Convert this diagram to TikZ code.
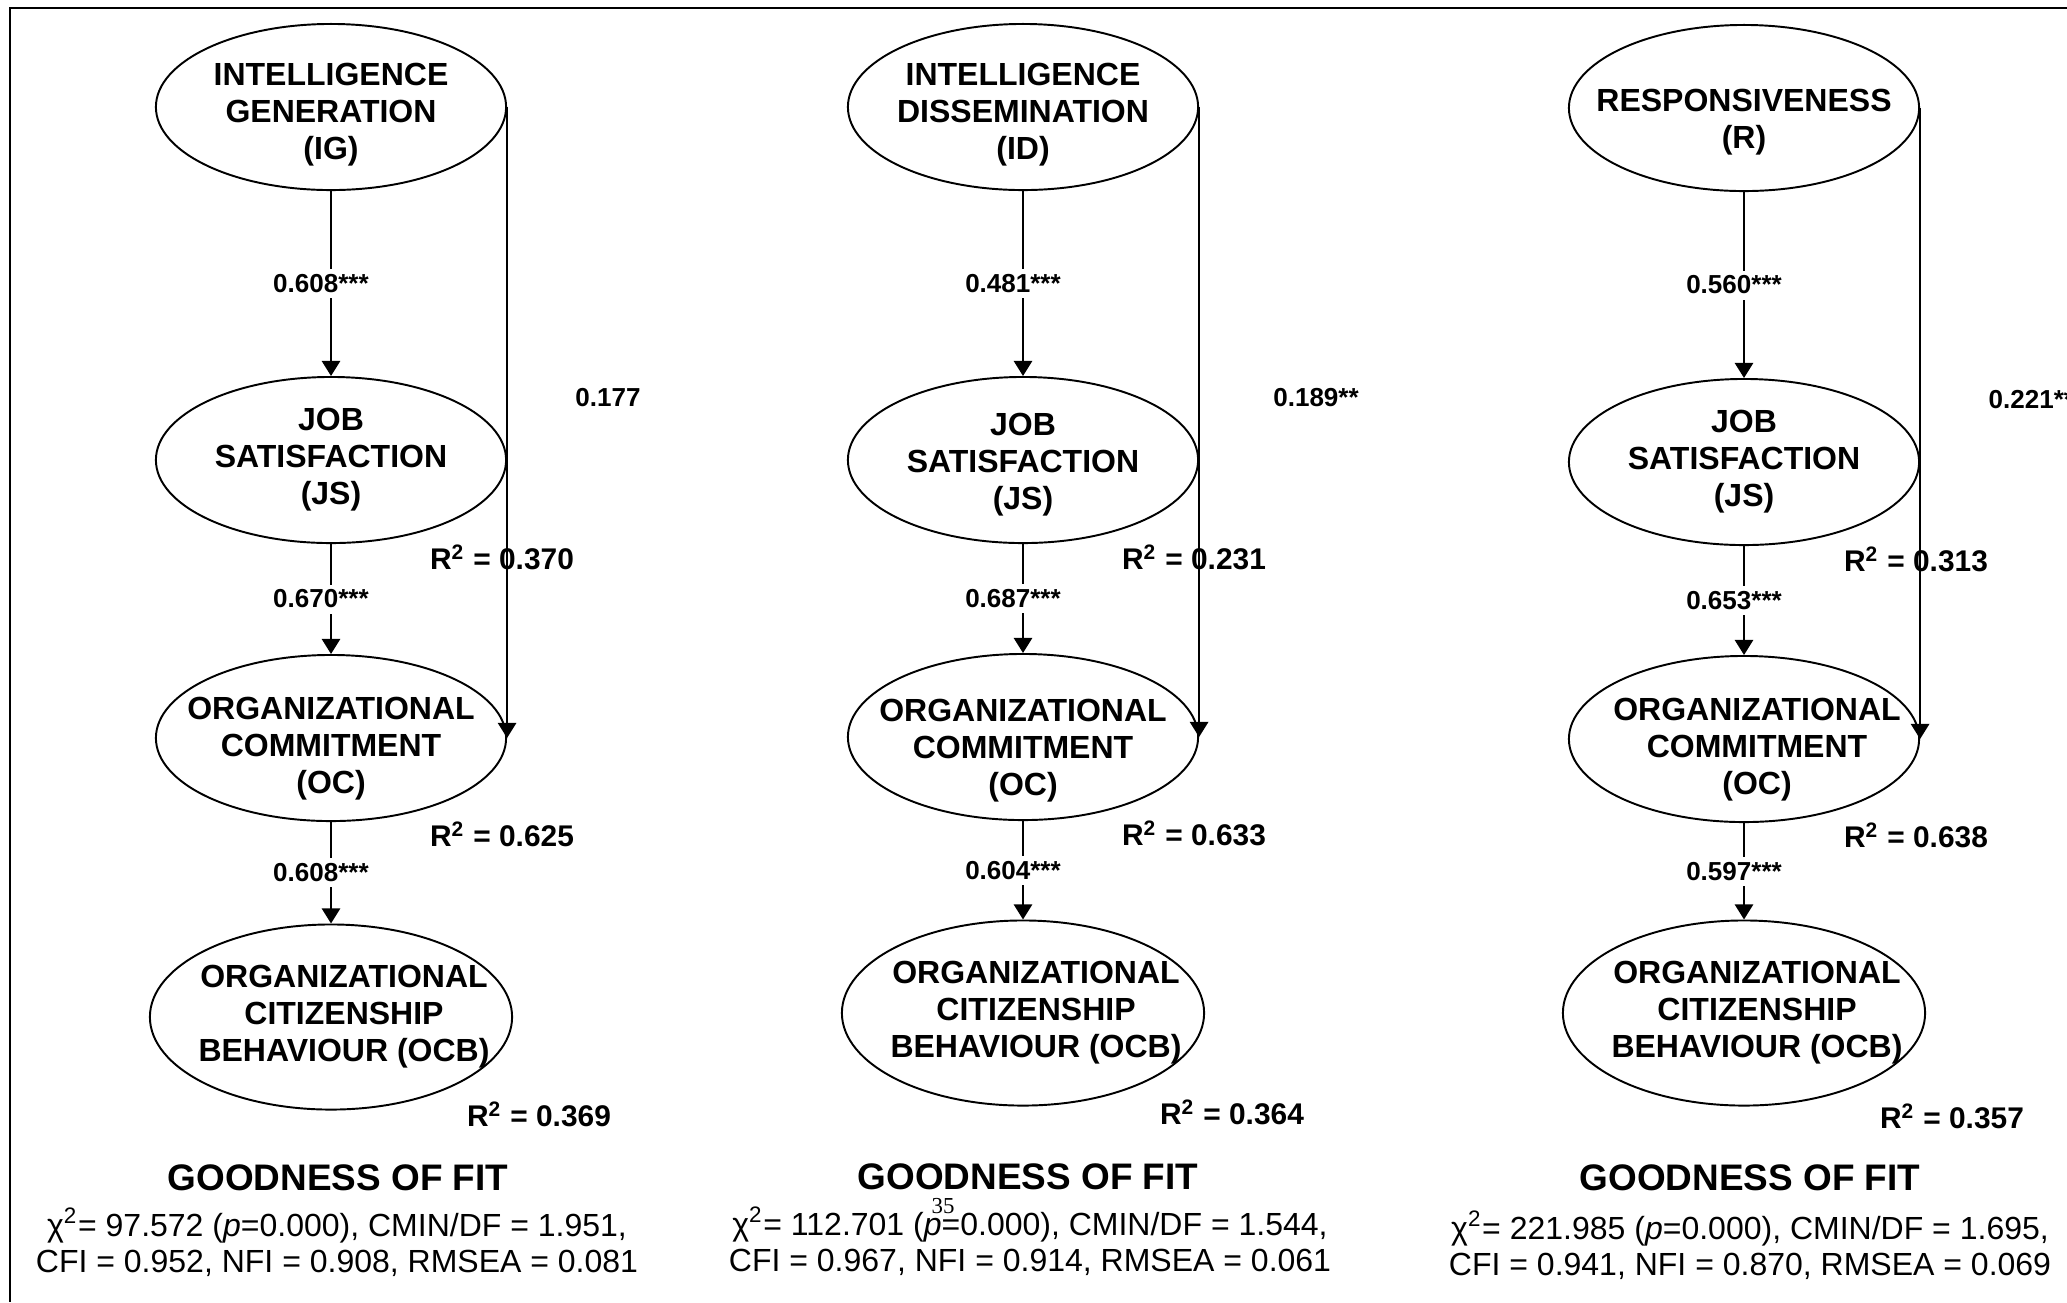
\documentclass[tikz,border=0pt]{standalone}
\usepackage{fontspec}
\setmainfont{Liberation Sans}
\newfontfamily\folioserif{Liberation Serif}
\usetikzlibrary{shapes.geometric,arrows.meta}
% lower a block of ellipse text, or push a line to the right
\newcommand{\droptext}[1]{\rule{0pt}{\dimexpr0.75em+#1\relax}}
\newcommand{\pushline}{\hspace*{0.26cm}}

\begin{document}
\begin{tikzpicture}[x=0.01cm,y=-0.01cm,
    >={Triangle[length=4.3pt,width=5.2pt]},
    construct/.style={ellipse,draw,line width=0.55pt,minimum width=3.5cm,
      minimum height=1.66cm,inner xsep=-0.6cm,inner ysep=-0.15cm,align=center,
      font=\bfseries\fontsize{9.1}{10.5}\selectfont},
    ocbconstruct/.style={construct,minimum width=3.62cm,minimum height=1.85cm},
    pathval/.style={inner sep=0pt,font=\bfseries\fontsize{7.4}{8}\selectfont},
    coef/.style={pathval,fill=white,inner sep=1.5pt,xshift=-0.1cm},
    rsq/.style={inner sep=0pt,font=\bfseries\fontsize{8.5}{10}\selectfont},
    fithead/.style={inner sep=0pt,font=\bfseries\fontsize{10.5}{12}\selectfont},
    fitstats/.style={inner sep=0pt,align=center,font=\fontsize{9.1}{10.2}\selectfont},
    folio/.style={inner sep=0pt,font=\folioserif\fontsize{6.5}{7}\selectfont}]
  \useasboundingbox (0,0) rectangle (2067,1302);
  \draw[line width=0.7pt] (2067,8) -- (10,8) -- (10,1302);

  % intelligence generation model
  \draw
    (331,107) node[construct] (ig) {\droptext{0.13cm}INTELLIGENCE\\GENERATION\\(IG)}
    (331,460) node[construct] (js1) {JOB\\SATISFACTION\\(JS)}
    (331,738) node[construct] (oc1) {\droptext{0.2cm}ORGANIZATIONAL\\COMMITMENT\\(OC)}
    (331,1017) node[ocbconstruct] (ocb1) {\pushline ORGANIZATIONAL\\\pushline CITIZENSHIP\\\pushline BEHAVIOUR (OCB)};
  \begin{scope}[->,line width=0.6pt]
    \draw (ig) to node[coef] {0.608***} (js1);
    \draw (js1) to node[coef] {0.670***} (oc1);
    \draw (oc1) to node[coef] {0.608***} (ocb1);
    \draw (ig.east) to (oc1.east);
  \end{scope}
  \node[pathval] (igoc) at (608,398) {0.177};
  \node[rsq] (r2js1) at (502,557) {R\textsuperscript{2} = 0.370};
  \node[rsq] (r2oc1) at (502,834) {R\textsuperscript{2} = 0.625};
  \node[rsq] (r2ocb1) at (539,1114) {R\textsuperscript{2} = 0.369};
  \node[fithead] (gof1) at (338,1178) {GOODNESS OF FIT};
  \node[fitstats] (fit1) at (337,1242) {χ\textsuperscript{2}= 97.572 (\textit{p}=0.000), CMIN/DF = 1.951,\\CFI = 0.952, NFI = 0.908, RMSEA = 0.081};

  % intelligence dissemination model
  \draw
    (1023,107) node[construct] (id) {\droptext{0.14cm}INTELLIGENCE\\DISSEMINATION\\(ID)}
    (1023,460) node[construct] (js2) {\droptext{0.08cm}JOB\\SATISFACTION\\(JS)}
    (1023,737) node[construct] (oc2) {\droptext{0.25cm}ORGANIZATIONAL\\COMMITMENT\\(OC)}
    (1023,1013) node[ocbconstruct] (ocb2) {\pushline ORGANIZATIONAL\\\pushline CITIZENSHIP\\\pushline BEHAVIOUR (OCB)};
  \begin{scope}[->,line width=0.6pt]
    \draw (id) to node[coef] {0.481***} (js2);
    \draw (js2) to node[coef] {0.687***} (oc2);
    \draw (oc2) to node[coef] {0.604***} (ocb2);
    \draw (id.east) to (oc2.east);
  \end{scope}
  \node[pathval] (idoc) at (1316,398) {0.189**};
  \node[rsq] (r2js2) at (1194,557) {R\textsuperscript{2} = 0.231};
  \node[rsq] (r2oc2) at (1194,833) {R\textsuperscript{2} = 0.633};
  \node[rsq] (r2ocb2) at (1232,1112) {R\textsuperscript{2} = 0.364};
  \node[fithead] (gof2) at (1028,1177) {GOODNESS OF FIT};
  \node[fitstats] (fit2) at (1030,1241) {χ\textsuperscript{2}= 112.701 (\textit{p}=0.000), CMIN/DF = 1.544,\\CFI = 0.967, NFI = 0.914, RMSEA = 0.061};
  \node[folio] (folio) at (943,1206) {35};

  % responsiveness model
  \draw
    (1744,108) node[construct] (r) {\droptext{0.26cm}RESPONSIVENESS\\(R)}
    (1744,462) node[construct] (js3) {JOB\\SATISFACTION\\(JS)}
    (1744,739) node[construct] (oc3) {\droptext{0.2cm}\pushline ORGANIZATIONAL\\\pushline COMMITMENT\\\pushline (OC)}
    (1744,1013) node[ocbconstruct] (ocb3) {\pushline ORGANIZATIONAL\\\pushline CITIZENSHIP\\\pushline BEHAVIOUR (OCB)};
  \begin{scope}[->,line width=0.6pt]
    \draw (r) to node[coef] {0.560***} (js3);
    \draw (js3) to node[coef] {0.653***} (oc3);
    \draw (oc3) to node[coef] {0.597***} (ocb3);
    \draw (r.east) to (oc3.east);
  \end{scope}
  \node[pathval,anchor=west] (roc) at (1988,400) {0.221**};
  \node[rsq] (r2js3) at (1916,559) {R\textsuperscript{2} = 0.313};
  \node[rsq] (r2oc3) at (1916,835) {R\textsuperscript{2} = 0.638};
  \node[rsq] (r2ocb3) at (1952,1116) {R\textsuperscript{2} = 0.357};
  \node[fithead] (gof3) at (1750,1178) {GOODNESS OF FIT};
  \node[fitstats] (fit3) at (1750,1245) {χ\textsuperscript{2}= 221.985 (\textit{p}=0.000), CMIN/DF = 1.695,\\CFI = 0.941, NFI = 0.870, RMSEA = 0.069};
\end{tikzpicture}
\end{document}
